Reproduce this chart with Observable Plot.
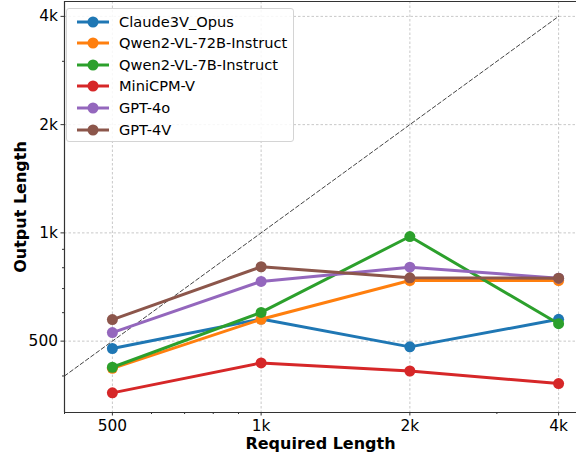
<!DOCTYPE html>
<html>
<head>
<meta charset="utf-8">
<script src="https://cdn.jsdelivr.net/npm/d3@7"></script>
<script src="https://cdn.jsdelivr.net/npm/@observablehq/plot@0.6"></script>
<style>
  html, body { margin: 0; padding: 0; background: #fff; }
  #wrap { position: relative; width: 576px; height: 457px; overflow: hidden; font-family: "DejaVu Sans", sans-serif; }
  #legend { position: absolute; left: 66px; top: 8px; width: 226px; height: 132px; background: rgba(255,255,255,0.85);
            border: 1px solid #d4d4d4; border-radius: 3px; }
  .row { position: absolute; left: 0; height: 20px; }
  .row svg { position: absolute; left: 9px; top: 0; }
  .row span { position: absolute; left: 52px; font-size: 14.6px; color: #000; white-space: nowrap; line-height: 20px; top: 0; }
</style>
</head>
<body>
<div id="wrap"><div id="legend"></div></div>
<script>
// ---- data ----
const requiredLength = [500, 1000, 2000, 4000];
const seriesNames = ["Claude3V_Opus", "Qwen2-VL-72B-Instruct", "Qwen2-VL-7B-Instruct", "MiniCPM-V", "GPT-4o", "GPT-4V"];
const claude3vOpus = [477, 576, 482, 575];
const qwen72b = [420, 575, 737, 737];
const qwen7b = [423, 601, 977, 559];
const miniCPMV = [359, 435, 413, 381];
const gpt4o = [528, 733, 803, 748];
const gpt4v = [574, 805, 750, 748];
const seriesValues = [claude3vOpus, qwen72b, qwen7b, miniCPMV, gpt4o, gpt4v];
const colors = ["#1f77b4", "#ff7f0e", "#2ca02c", "#d62728", "#9467bd", "#8c564b"];
const xTicks = [500, 1000, 2000, 4000];
const yTicks = [500, 1000, 2000, 4000];
const xMinor = [400, 600, 700, 800, 900, 3000];
const yMinor = [400, 600, 700, 800, 900, 3000];
const diagonal = [400, 4000];
const xDomain = [400, 4348];
const yDomain = [316.6, 4400];

const rows = [];
seriesNames.forEach((s, i) => seriesValues[i].forEach((v, j) => rows.push({series: s, x: requiredLength[j], y: v})));

const fmt = d => d >= 1000 ? (d / 1000) + "k" : String(d);
const color = {type: "categorical", domain: seriesNames, range: colors};

const seriesMarks = seriesNames.flatMap(s => {
  const d = rows.filter(r => r.series === s);
  return [
    Plot.line(d, {x: "x", y: "y", stroke: "series", strokeWidth: 3}),
    Plot.dot(d, {x: "x", y: "y", fill: "series", r: 5.5, stroke: "none"})
  ];
});

const chart = Plot.plot({
  width: 576, height: 457,
  marginLeft: 64, marginRight: 0, marginTop: 1, marginBottom: 45,
  style: {fontFamily: "DejaVu Sans, sans-serif", fontSize: "15.4px", background: "white", color: "#000"},
  x: {type: "log", domain: xDomain},
  y: {type: "log", domain: yDomain},
  color,
  marks: [
    Plot.gridX(xTicks, {stroke: "#c8c8c8", strokeOpacity: 1, strokeDasharray: "2.5,2"}),
    Plot.gridY(yTicks, {stroke: "#c8c8c8", strokeOpacity: 1, strokeDasharray: "2.5,2"}),
    Plot.line(diagonal.map(v => ({x: v, y: v})), {x: "x", y: "y", stroke: "#444", strokeWidth: 1, strokeDasharray: "4,2.5"}),
    ...seriesMarks,
    Plot.axisX({ticks: xMinor, tickSize: 2, text: null, label: null, stroke: "#333"}),
    Plot.axisY({ticks: yMinor, tickSize: 2, text: null, label: null, stroke: "#333"}),
    Plot.axisX({ticks: xTicks, tickSize: 3.5, tickPadding: 4, tickFormat: fmt, label: null, fontSize: 15.4, stroke: "#333"}),
    Plot.axisY({ticks: yTicks, tickSize: 3.5, tickPadding: 3, tickFormat: fmt, label: null, fontSize: 15.4, stroke: "#333"}),
    Plot.ruleX([xDomain[0]], {stroke: "#333", strokeWidth: 1.2}),
    Plot.ruleY([yDomain[0], yDomain[1]], {stroke: "#333", strokeWidth: 1.2}),
    Plot.text(["Required Length"], {frameAnchor: "bottom", dy: 31, lineAnchor: "middle", textAnchor: "middle", fontWeight: "bold", fontSize: 16, fill: "#000"}),
    Plot.text(["Output Length"], {frameAnchor: "left", dx: -44, rotate: -90, lineAnchor: "middle", textAnchor: "middle", fontWeight: "bold", fontSize: 16, fill: "#000"})
  ]
});
const wrap = document.getElementById("wrap");
wrap.insertBefore(chart, wrap.firstChild);
chart.style.position = "absolute";
chart.style.left = "0";
chart.style.top = "0";

// legend
const legend = document.getElementById("legend");
seriesNames.forEach((s, i) => {
  const row = document.createElement("div");
  row.className = "row";
  row.style.top = (2.5 + i * 21.6) + "px";
  row.innerHTML = `<svg width="34" height="20"><line x1="1" y1="10" x2="33" y2="10" stroke="${colors[i]}" stroke-width="3"/><circle cx="17" cy="10" r="5.5" fill="${colors[i]}"/></svg><span>${s}</span>`;
  legend.appendChild(row);
});
</script>
</body>
</html>
